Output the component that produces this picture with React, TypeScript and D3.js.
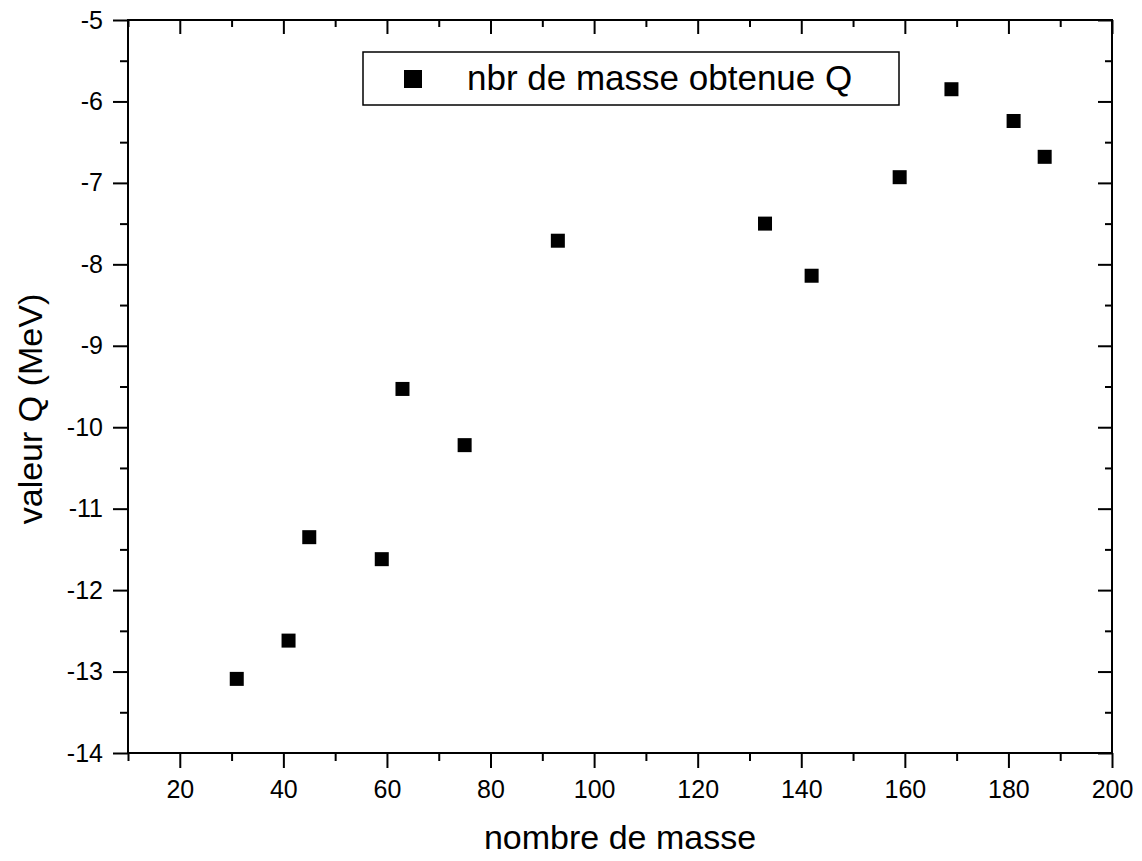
import React, { useEffect, useRef } from "react"
import * as d3 from "d3"

// mass numbers and Q values
const masses = [31, 41, 45, 59, 63, 75, 93, 133, 142, 159, 169, 181, 187]
const qValues = [-13.09, -12.62, -11.35, -11.62, -9.53, -10.22, -7.71, -7.5, -8.14, -6.93, -5.85, -6.24, -6.68]

const xMajor = [20, 40, 60, 80, 100, 120, 140, 160, 180, 200]
const xMinor = [10, 30, 50, 70, 90, 110, 130, 150, 170, 190]
const yMajor = [-5, -6, -7, -8, -9, -10, -11, -12, -13, -14]
const yMinor = [-5.5, -6.5, -7.5, -8.5, -9.5, -10.5, -11.5, -12.5, -13.5]

const legendLabel = "nbr de masse obtenue Q"
const xTitle = "nombre de masse"
const yTitle = "valeur Q (MeV)"

const FONT = "'Liberation Sans', Arial, sans-serif"

const drawChart = (wrapper, width, height) => {
  d3.select(wrapper).selectAll("*").remove()

  const left = 128
  const right = 1112
  const top = 20
  const bottom = 753

  const svg = d3
    .select(wrapper)
    .append("svg")
    .attr("width", width)
    .attr("height", height)
    .style("display", "block")
    .style("background", "#fff")
    .style("font-family", FONT)

  const x = d3.scaleLinear().domain([10, 200]).range([left, right])
  const y = d3.scaleLinear().domain([-14, -5]).range([bottom, top])

  // plain hyphen for negatives, like the original
  const fmt = d => String(d)
  const blank = () => ""

  const styleAxis = g => {
    g.select(".domain").remove()
    g.selectAll("line").attr("stroke", "#000").attr("stroke-width", 2)
    g.selectAll("text").attr("fill", "#000").style("font-size", "25px").style("font-family", FONT)
  }

  // bottom axis, ticks outside
  svg
    .append("g")
    .attr("transform", "translate(0," + bottom + ")")
    .call(d3.axisBottom(x).tickValues(xMajor).tickSize(15).tickSizeOuter(0).tickPadding(12).tickFormat(fmt))
    .call(styleAxis)
  svg
    .append("g")
    .attr("transform", "translate(0," + bottom + ")")
    .call(d3.axisBottom(x).tickValues(xMinor).tickSize(8).tickSizeOuter(0).tickFormat(blank))
    .call(styleAxis)

  // top axis, ticks inside
  svg
    .append("g")
    .attr("transform", "translate(0," + top + ")")
    .call(d3.axisBottom(x).tickValues(xMajor).tickSize(14).tickSizeOuter(0).tickFormat(blank))
    .call(styleAxis)
  svg
    .append("g")
    .attr("transform", "translate(0," + top + ")")
    .call(d3.axisBottom(x).tickValues(xMinor).tickSize(7).tickSizeOuter(0).tickFormat(blank))
    .call(styleAxis)

  // left axis, ticks outside
  svg
    .append("g")
    .attr("transform", "translate(" + left + ",0)")
    .call(d3.axisLeft(y).tickValues(yMajor).tickSize(15).tickSizeOuter(0).tickPadding(10).tickFormat(fmt))
    .call(styleAxis)
  svg
    .append("g")
    .attr("transform", "translate(" + left + ",0)")
    .call(d3.axisLeft(y).tickValues(yMinor).tickSize(8).tickSizeOuter(0).tickFormat(blank))
    .call(styleAxis)

  // right axis, ticks inside
  svg
    .append("g")
    .attr("transform", "translate(" + right + ",0)")
    .call(d3.axisLeft(y).tickValues(yMajor).tickSize(14).tickSizeOuter(0).tickFormat(blank))
    .call(styleAxis)
  svg
    .append("g")
    .attr("transform", "translate(" + right + ",0)")
    .call(d3.axisLeft(y).tickValues(yMinor).tickSize(7).tickSizeOuter(0).tickFormat(blank))
    .call(styleAxis)

  // frame
  svg
    .append("rect")
    .attr("x", left)
    .attr("y", top)
    .attr("width", right - left)
    .attr("height", bottom - top)
    .attr("fill", "none")
    .attr("stroke", "#000")
    .attr("stroke-width", 2)

  // points
  const size = 14
  svg
    .append("g")
    .selectAll("rect")
    .data(masses.map((m, i) => [m, qValues[i]]))
    .enter()
    .append("rect")
    .attr("x", d => x(d[0]) - size / 2)
    .attr("y", d => y(d[1]) - size / 2)
    .attr("width", size)
    .attr("height", size)
    .attr("fill", "#000")

  // legend
  const legend = svg.append("g")
  legend
    .append("rect")
    .attr("x", 363)
    .attr("y", 52)
    .attr("width", 536)
    .attr("height", 53)
    .attr("fill", "#fff")
    .attr("stroke", "#000")
    .attr("stroke-width", 1.5)
  legend
    .append("rect")
    .attr("x", 404)
    .attr("y", 70)
    .attr("width", 18)
    .attr("height", 18)
    .attr("fill", "#000")
  legend
    .append("text")
    .attr("x", 467)
    .attr("y", 90)
    .style("font-size", "35px")
    .attr("fill", "#000")
    .text(legendLabel)

  // axis titles
  svg
    .append("text")
    .attr("x", (left + right) / 2)
    .attr("y", 849)
    .attr("text-anchor", "middle")
    .style("font-size", "34px")
    .attr("fill", "#000")
    .text(xTitle)

  svg
    .append("text")
    .attr("transform", "translate(42,409) rotate(-90)")
    .attr("text-anchor", "middle")
    .style("font-size", "34px")
    .attr("fill", "#000")
    .text(yTitle)
}

export default function App() {
  const chart = useRef(null)
  useEffect(() => {
    drawChart(chart.current, 1142, 861)
  }, [])

  return <div ref={chart} style={{ position: "absolute", left: 0, top: 0 }}></div>
}
